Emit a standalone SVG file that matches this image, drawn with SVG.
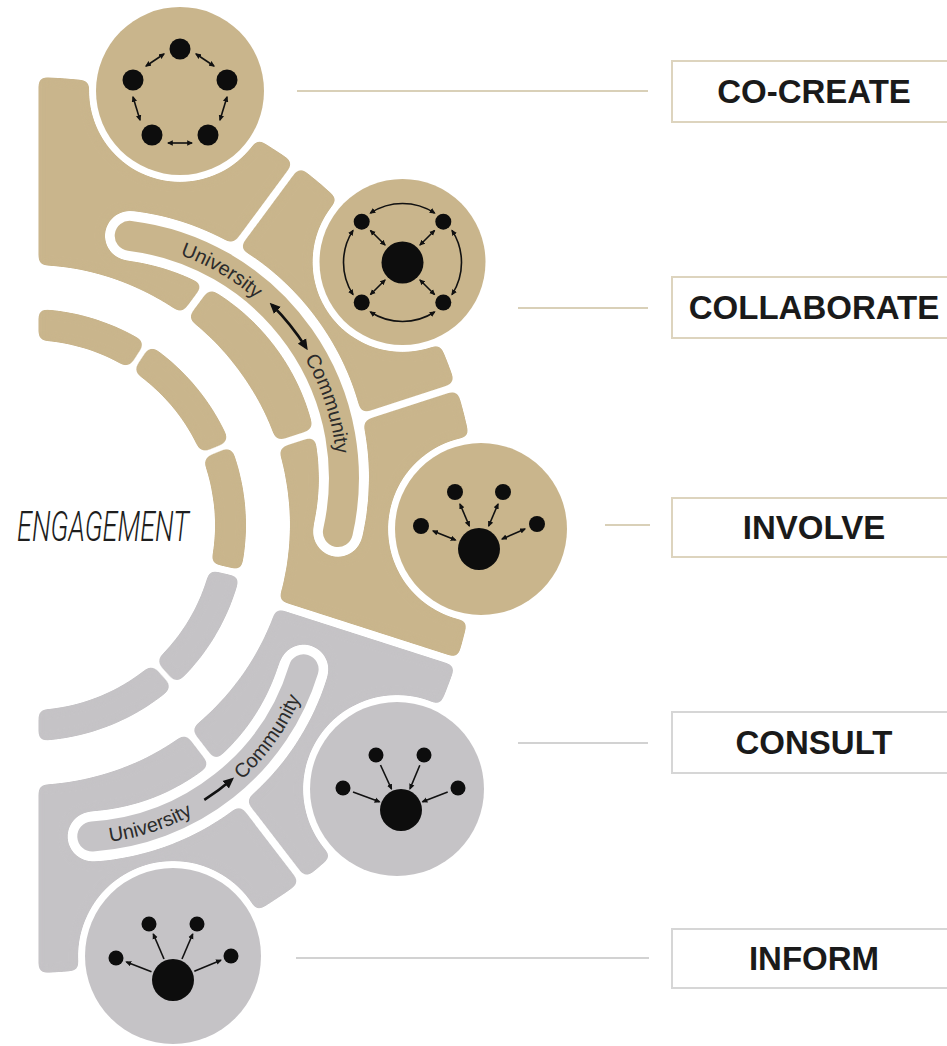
<svg xmlns="http://www.w3.org/2000/svg" width="947" height="1046" viewBox="0 0 947 1046">
<style>
.tanS{stroke:#C9B58C}
.gryS{stroke:#C5C3C6}
.tan{fill:#C9B58C}
.gry{fill:#C5C3C6}
.ring{fill:none;stroke-width:31}
.band{fill:none;stroke-width:188}
.trackfill{fill:none;stroke-width:30;stroke-linecap:round}
.cutA{stroke:#000;stroke-width:7;fill:none}
.cutB{stroke:#000;stroke-width:8;fill:none}
.cutT{stroke:#000;stroke-width:50;stroke-linecap:round;fill:none}
.dot{fill:#0d0d0d}
.ar{fill:none;stroke:#111;stroke-width:1.6;marker-start:url(#ah);marker-end:url(#ah)}
.ar1{fill:none;stroke:#111;stroke-width:1.6;marker-end:url(#ah)}
.big{fill:none;stroke:#111;stroke-width:2.6}
.trk{font-family:"Liberation Sans",Arial,sans-serif;font-size:20px;fill:#2b2b2b}
.lbl{font-family:"Liberation Sans",Arial,sans-serif;font-weight:bold;font-size:33px;fill:#1a1a1a;text-anchor:middle}
.box1{fill:#fff;stroke:#DDD4BE;stroke-width:2}
.box2{fill:#fff;stroke:#D6D6D6;stroke-width:2}
.ln1{stroke:#D9D0B8;stroke-width:2}
.ln2{stroke:#D2D2D2;stroke-width:2}
</style>
<defs>
<filter id="soft" filterUnits="userSpaceOnUse" x="0" y="0" width="947" height="1046" color-interpolation-filters="sRGB">
<feGaussianBlur stdDeviation="4"/>
<feComponentTransfer><feFuncA type="linear" slope="14" intercept="-6.5"/></feComponentTransfer>
</filter>
<clipPath id="clipL"><rect x="38.5" y="0" width="920" height="1046"/></clipPath>
<mask id="cut" maskUnits="userSpaceOnUse" x="0" y="0" width="947" height="1046">
<rect width="947" height="1046" fill="#fff"/>
<path class="cutA" d="M125.3,378.2 L153.1,335.5 M192.3,459.4 L239.5,440.3 M200.5,564.4 L250.2,575.9 M147.1,655 L181.2,693"/>
<path class="cutB" d="M178.7,324 L301.2,158.4 M267.8,447.8 L463.7,384.1 M268,601.4 L464.2,664.4 M182.2,723.4 L307.6,886.8"/>
<path class="cutT" d="M129.7,235.8 A244,244 0 0 1 337.9,532"/>
<path class="cutT" d="M303.6,669.3 A237,237 0 0 1 92.3,836.5"/>
<circle cx="180" cy="91" r="91"/>
<circle cx="402.5" cy="262" r="90"/>
<circle cx="481" cy="529" r="93"/>
<circle cx="397" cy="789" r="94"/>
<circle cx="173" cy="956" r="95"/>
</mask>
<marker id="ah" viewBox="0 0 10 10" refX="8" refY="5" markerWidth="6" markerHeight="6" markerUnits="userSpaceOnUse" orient="auto-start-reverse"><path d="M0,0.5 L10,5 L0,9.5 z" fill="#111"/></marker>
<marker id="ahL" viewBox="0 0 10 10" refX="7" refY="5" markerWidth="11" markerHeight="11" markerUnits="userSpaceOnUse" orient="auto-start-reverse"><path d="M0,0.5 L10,5 L0,9.5 z" fill="#111"/></marker>
<path id="tt" d="M120.7,241.9 A237,237 0 0 1 322.7,559.1"/>
<path id="gt" d="M77,844 A244,244 0 0 0 317.3,642.4"/>
</defs>

<g id="bands-tan" filter="url(#soft)">
<g mask="url(#cut)" clip-path="url(#clipL)">
<path class="ring tanS" d="M23,324.6 A200.5,200.5 0 0 1 225.4,570.1"/>
<path class="band tanS" d="M17.65,171.2 A354,354 0 0 1 367,633.2"/>
</g>
</g>
<g id="bands-gray" filter="url(#soft)">
<g mask="url(#cut)" clip-path="url(#clipL)">
<path class="ring gryS" d="M225.4,570.1 A200.5,200.5 0 0 1 23,725.4"/>
<path class="band gryS" d="M367,633.2 A354,354 0 0 1 17.65,878.8"/>
</g>
</g>

<g id="track-two-way">
<path class="trackfill tanS" d="M129.7,235.8 A244,244 0 0 1 337.9,532"/>
<text class="trk"><textPath href="#tt" startOffset="61">University</textPath></text>
<path class="big" d="M272,305 A244,244 0 0 1 306,347.5" marker-start="url(#ahL)" marker-end="url(#ahL)"/>
<text class="trk"><textPath href="#tt" startOffset="226">Community</textPath></text>
</g>
<g id="track-one-way">
<path class="trackfill gryS" d="M303.6,669.3 A237,237 0 0 1 92.3,836.5"/>
<text class="trk"><textPath href="#gt" startOffset="33">University</textPath></text>
<path class="big" d="M204.3,799.9 A237,237 0 0 0 231.5,779.7" marker-end="url(#ahL)"/>
<text class="trk"><textPath href="#gt" startOffset="181">Community</textPath></text>
</g>

<text id="engagement" x="17" y="541" font-family="Roboto,'Liberation Sans',Arial,sans-serif" font-weight="300" font-style="italic" font-size="42" fill="#1e1e1e" textLength="172" lengthAdjust="spacingAndGlyphs">ENGAGEMENT</text>

<g id="node-cocreate">
<circle class="tan" cx="180" cy="91" r="84"/>
<circle class="dot" cx="180" cy="49" r="10.5"/>
<circle class="dot" cx="133" cy="80" r="10.5"/>
<circle class="dot" cx="227" cy="80" r="10.5"/>
<circle class="dot" cx="152" cy="135" r="10.5"/>
<circle class="dot" cx="208" cy="135" r="10.5"/>
<path class="ar" d="M146,66 L164,54"/>
<path class="ar" d="M196,54 L214,66"/>
<path class="ar" d="M133,97 L140,120"/>
<path class="ar" d="M168,143 L192,143"/>
<path class="ar" d="M220,120 L227,97"/>
</g>

<g id="node-collaborate">
<circle class="tan" cx="402.5" cy="262" r="83"/>
<circle class="dot" cx="402.5" cy="262.5" r="21"/>
<circle class="dot" cx="361.7" cy="221.7" r="8"/>
<circle class="dot" cx="443.3" cy="221.7" r="8"/>
<circle class="dot" cx="361.7" cy="302.5" r="8"/>
<circle class="dot" cx="443.3" cy="302.5" r="8"/>
<path class="ar" d="M370.4,213 A59,59 0 0 1 434.6,213"/>
<path class="ar" d="M452,230.4 A59,59 0 0 1 452,294.6"/>
<path class="ar" d="M434.6,312 A59,59 0 0 1 370.4,312"/>
<path class="ar" d="M353,294.6 A59,59 0 0 1 353,230.4"/>
<path class="ar" d="M385,245 L370.5,230.5"/>
<path class="ar" d="M420,245 L434.5,230.5"/>
<path class="ar" d="M385,280 L370.5,294.5"/>
<path class="ar" d="M420,280 L434.5,294.5"/>
</g>

<g id="node-involve">
<circle class="tan" cx="481" cy="529" r="86"/>
<circle class="dot" cx="479" cy="549" r="21"/>
<circle class="dot" cx="455" cy="492" r="8"/>
<circle class="dot" cx="503" cy="492" r="8"/>
<circle class="dot" cx="421" cy="526" r="8"/>
<circle class="dot" cx="537" cy="524" r="8"/>
<path class="ar" d="M460,504 L469.3,526"/>
<path class="ar" d="M498,504 L488.7,526"/>
<path class="ar" d="M433,531 L455.5,540"/>
<path class="ar" d="M525,529 L502,539"/>
</g>

<g id="node-consult">
<circle class="gry" cx="397" cy="789" r="87"/>
<circle class="dot" cx="401" cy="810" r="21"/>
<circle class="dot" cx="376" cy="755" r="7.5"/>
<circle class="dot" cx="424" cy="755" r="7.5"/>
<circle class="dot" cx="343" cy="788" r="7.5"/>
<circle class="dot" cx="458" cy="788" r="7.5"/>
<path class="ar1" d="M380.5,765 L391.5,789"/>
<path class="ar1" d="M419.8,765.2 L410,788.8"/>
<path class="ar1" d="M353,792 L379.5,801.8"/>
<path class="ar1" d="M447.7,792 L422.5,801.7"/>
</g>

<g id="node-inform">
<circle class="gry" cx="173" cy="956" r="88"/>
<circle class="dot" cx="173" cy="980" r="21"/>
<circle class="dot" cx="149" cy="924" r="7.5"/>
<circle class="dot" cx="197" cy="924" r="7.5"/>
<circle class="dot" cx="116" cy="958" r="7.5"/>
<circle class="dot" cx="231" cy="956" r="7.5"/>
<path class="ar1" d="M164,959 L153.3,934"/>
<path class="ar1" d="M182,959 L192.7,934"/>
<path class="ar1" d="M151.5,971.7 L126.4,962"/>
<path class="ar1" d="M194.3,971.2 L220.9,960.2"/>
</g>

<g id="connectors">
<line class="ln1" x1="297" y1="91" x2="648" y2="91"/>
<line class="ln1" x1="518" y1="308" x2="648" y2="308"/>
<line class="ln1" x1="605" y1="525" x2="650" y2="525"/>
<line class="ln2" x1="518" y1="743" x2="648" y2="743"/>
<line class="ln2" x1="296" y1="958" x2="649" y2="958"/>
</g>

<g id="label-cocreate"><rect class="box1" x="672" y="61" width="300" height="61"/><text class="lbl" x="814" y="103">CO-CREATE</text></g>
<g id="label-collaborate"><rect class="box1" x="672" y="277" width="300" height="61"/><text class="lbl" x="814" y="319">COLLABORATE</text></g>
<g id="label-involve"><rect class="box1" x="672" y="498" width="300" height="59"/><text class="lbl" x="814" y="539">INVOLVE</text></g>
<g id="label-consult"><rect class="box2" x="672" y="712" width="300" height="61"/><text class="lbl" x="814" y="754">CONSULT</text></g>
<g id="label-inform"><rect class="box2" x="672" y="929" width="300" height="59"/><text class="lbl" x="814" y="970">INFORM</text></g>
</svg>
